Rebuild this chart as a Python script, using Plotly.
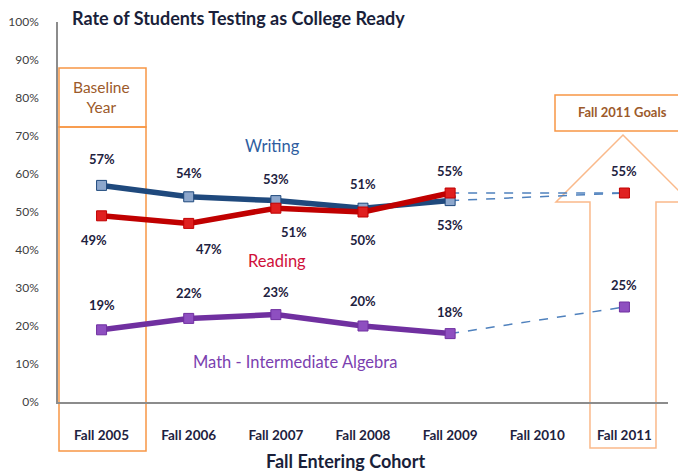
import plotly.graph_objects as go

cohorts = ['Fall 2005', 'Fall 2006', 'Fall 2007', 'Fall 2008', 'Fall 2009', 'Fall 2010', 'Fall 2011']
actual_years = cohorts[:5]
writing = [57, 54, 53, 51, 53]
reading = [49, 47, 51, 50, 55]
math = [19, 22, 23, 20, 18]
goal_year = 'Fall 2011'
writing_goal = 55
reading_goal = 55
math_goal = 25

# window is 686x471, page body has an 8px margin
OFF = 8
W, H = 686 - OFF, 471 - OFF
# plot area in window pixels (used to place the drawn callouts)
L, R, T, B = 58, 668, 22, 402


def px(x):
    return (x - L) / (R - L)


def py(y):
    return (B - y) / (B - T)


ORANGE = '#F79646'
BROWN = '#9C5A2A'
LABEL = '#1E2240'


def note(x, y, text, size, color, weight='normal', xanchor='center'):
    fig.add_annotation(x=px(x), y=py(y), xref='paper', yref='paper', text=text,
                       xanchor=xanchor, yanchor='middle', showarrow=False,
                       font=dict(size=size, color=color, weight=weight))


fig = go.Figure()

# dashed projections to the goals
for start, goal in [(writing[-1], writing_goal), (reading[-1], reading_goal), (math[-1], math_goal)]:
    fig.add_trace(go.Scatter(x=[actual_years[-1], goal_year], y=[start, goal], mode='lines',
                             line=dict(color='#4F81BD', width=1.5, dash='dash'),
                             showlegend=False, hoverinfo='skip'))

series = [
    ('Writing', writing, writing_goal, '#1F497D', '#8DA7CC'),
    ('Reading', reading, reading_goal, '#C00000', '#E02020'),
    ('Math', math, math_goal, '#7030A0', '#8E4FC0'),
]
for name, vals, goal, col, mcol in series:
    fig.add_trace(go.Scatter(x=actual_years, y=vals, mode='lines+markers', name=name,
                             line=dict(color=col, width=5.5),
                             marker=dict(symbol='square', size=10, color=mcol,
                                         line=dict(color=col, width=1)),
                             showlegend=False))
# goal markers
for name, vals, goal, col, mcol in series[1:]:
    fig.add_trace(go.Scatter(x=[goal_year], y=[goal], mode='markers',
                             marker=dict(symbol='square', size=10, color=mcol,
                                         line=dict(color=col, width=1)),
                             showlegend=False))

# data labels (shift in px, positive = above)
writing_shift = [26, 24, 22, 24, -24]
reading_shift = [-24, -26, -24, -28, 22]
math_shift = [25, 25, 23, 25, 22]
reading_dx = [-8, 20, 18, 0, 0]
for vals, shifts, dxs in [(writing, writing_shift, [0] * 5), (reading, reading_shift, reading_dx),
                          (math, math_shift, [0] * 5)]:
    for x, v, s, d in zip(actual_years, vals, shifts, dxs):
        fig.add_annotation(x=x, y=v, text=f'{v}%', showarrow=False, yshift=s, xshift=d,
                           font=dict(size=13, color=LABEL, weight='bold'))
for g in [reading_goal, math_goal]:
    fig.add_annotation(x=goal_year, y=g, text=f'{g}%', showarrow=False, yshift=22,
                       font=dict(size=13, color=LABEL, weight='bold'))

# series names
note(272, 146, 'Writing', 16.5, '#2E5DA0')
note(277, 261, 'Reading', 16.5, '#D0103A')
note(295, 362, 'Math - Intermediate Algebra', 16.5, '#7B3FB0')

# baseline boxes
fig.add_shape(type='rect', xref='paper', yref='paper', x0=px(59), x1=px(146), y0=py(68), y1=py(127),
              line=dict(color=ORANGE, width=1.5), layer='below')
fig.add_shape(type='rect', xref='paper', yref='paper', x0=px(59), x1=px(146), y0=py(127), y1=py(451),
              line=dict(color=ORANGE, width=1.5), layer='below')
note(101, 97, 'Baseline<br>Year', 15.5, BROWN)

# goals arrow and box
pts = [(623, 135), (690, 202), (656, 202), (656, 448), (590, 448), (590, 202), (556, 202)]
path = 'M ' + ' L '.join(f'{px(a):.4f},{py(b):.4f}' for a, b in pts) + ' Z'
fig.add_shape(type='path', xref='paper', yref='paper', path=path,
              line=dict(color='#FAB98A', width=1.5), layer='below')
fig.add_shape(type='rect', xref='paper', yref='paper', x0=px(555), x1=px(692), y0=py(95), y1=py(131),
              line=dict(color=ORANGE, width=1.5), fillcolor='white', layer='below')
note(622, 112, 'Fall 2011 Goals', 13, BROWN, 'bold')

# titles
note(70, 18, 'Rate of Students Testing as College Ready', 18, '#1A1F3A', 'bold', 'left')
note(345, 461, 'Fall Entering Cohort', 18, '#1A1F3A', 'bold')

fig.update_layout(
    width=W, height=H,
    margin=dict(l=L - OFF, r=W - (R - OFF), t=T - OFF, b=H - (B - OFF)),
    paper_bgcolor='white', plot_bgcolor='white',
    font=dict(family='Lato, Open Sans, sans-serif'),
    showlegend=False,
)
fig.update_xaxes(type='category', categoryorder='array', categoryarray=cohorts,
                 range=[-0.5, 6.5], showgrid=False, showline=True, linecolor='#8C8C8C',
                 linewidth=1.5, ticks='', ticklabelstandoff=20, automargin=False,
                 tickfont=dict(size=13.5, color=LABEL, weight='bold'))
fig.update_yaxes(range=[0, 100], dtick=10, ticksuffix='%', showgrid=False, showline=True,
                 linecolor='#8C8C8C', linewidth=1.5, ticks='', ticklabelstandoff=15,
                 zeroline=False, automargin=False, tickfont=dict(size=12, color='#404040'))

fig.write_html('out.html')
